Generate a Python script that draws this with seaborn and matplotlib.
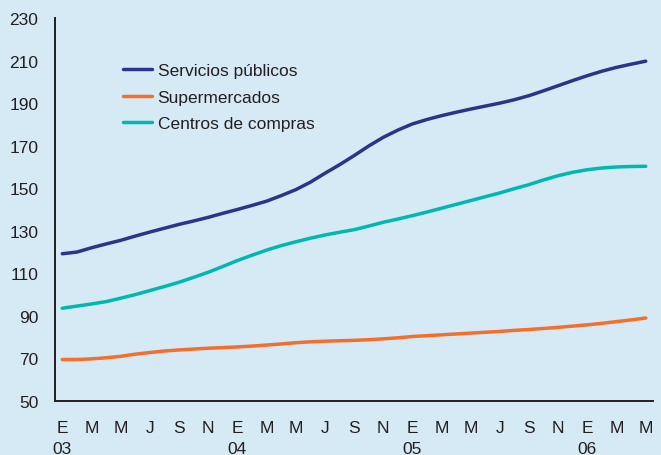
import numpy as np
import pandas as pd
import matplotlib
matplotlib.use("Agg")
import matplotlib.pyplot as plt
import seaborn as sns

# Monthly index values, January 2003 to May 2006
months = ["E", "F", "M", "A", "M", "J", "J", "A", "S", "O", "N", "D"] * 3 + ["E", "F", "M", "A", "M"]
years = ["03"] * 12 + ["04"] * 12 + ["05"] * 12 + ["06"] * 5

servicios = [119.2, 120.0, 122.0, 123.8, 125.5, 127.5, 129.4, 131.2, 133.0, 134.6,
             136.3, 138.2, 140.0, 141.9, 143.9, 146.5, 149.3, 152.8, 157.0, 161.0,
             165.3, 169.8, 173.9, 177.3, 180.2, 182.3, 184.1, 185.7, 187.2, 188.6,
             190.0, 191.6, 193.5, 195.8, 198.2, 200.6, 202.9, 205.0, 206.8, 208.3,
             209.7]
supermercados = [69.5, 69.5, 69.8, 70.3, 71.0, 72.0, 72.8, 73.5, 74.0, 74.4,
                 74.8, 75.1, 75.4, 75.8, 76.3, 76.8, 77.4, 77.8, 78.1, 78.3,
                 78.5, 78.8, 79.2, 79.7, 80.3, 80.7, 81.1, 81.5, 81.9, 82.3,
                 82.7, 83.2, 83.6, 84.1, 84.6, 85.2, 85.8, 86.5, 87.3, 88.1,
                 89.0]
centros = [93.6, 94.6, 95.6, 96.7, 98.3, 100.0, 101.9, 103.8, 105.8, 108.1,
           110.5, 113.2, 116.0, 118.5, 120.9, 123.0, 124.8, 126.5, 128.0, 129.3,
           130.5, 132.2, 134.0, 135.5, 137.1, 138.8, 140.6, 142.4, 144.2, 146.0,
           147.8, 149.8, 151.7, 153.9, 155.9, 157.5, 158.7, 159.5, 160.0, 160.2,
           160.3]

series_names = ["Servicios públicos", "Supermercados", "Centros de compras"]
series_values = [servicios, supermercados, centros]
palette = ["#2B348A", "#F36F2B", "#00B7B1"]
y_ticks = list(range(50, 231, 20))

n = len(months)
x = np.arange(n)
df = pd.concat(
    [pd.DataFrame({"mes": x, "valor": vals, "serie": name})
     for name, vals in zip(series_names, series_values)],
    ignore_index=True,
)

sns.set_theme(style="white")
plt.rcParams["font.family"] = ["Liberation Sans", "DejaVu Sans"]

bg = "#D6EAF5"
ink = "#231F20"
fig = plt.figure(figsize=(6.61, 4.56), dpi=100, facecolor=bg)
ax = fig.add_axes([55 / 661, 1 - 402 / 456, 598 / 661, 383 / 456])
ax.set_facecolor(bg)

sns.lineplot(data=df, x="mes", y="valor", hue="serie", hue_order=series_names,
             palette=palette, linewidth=2.5, ax=ax, legend=True)

ax.set_xlim(-0.5, n - 0.5)
ax.set_ylim(50, 230)
ax.set_yticks(y_ticks)
ax.set_yticklabels([str(v) for v in y_ticks], fontsize=12.5, color=ink)

# Labels every two months at month centres; tick marks at month boundaries
label_pos = x[::2]
labels = [f"{months[i]}\n{years[i]}" if months[i] == "E" else f"{months[i]}\n"
          for i in label_pos]
ax.set_xticks(label_pos)
ax.set_xticklabels(labels, fontsize=12.5, color=ink, linespacing=1.45)
ax.set_xticks(np.arange(-0.5, n, 1.0), minor=True)
ax.tick_params(axis="x", which="major", length=0, pad=14)
ax.tick_params(axis="x", which="minor", length=5, width=1.2, color=ink, direction="out")
ax.tick_params(axis="y", which="major", length=6, width=1.2, color=ink,
               direction="out", pad=6)

for side in ["top", "right"]:
    ax.spines[side].set_visible(False)
for side in ["left", "bottom"]:
    ax.spines[side].set_color(ink)
    ax.spines[side].set_linewidth(1.4)

ax.set_xlabel("")
ax.set_ylabel("")

leg = ax.legend(loc="upper left", bbox_to_anchor=(0.102, 0.9), frameon=False,
                fontsize=12.5, handlelength=1.7, handletextpad=0.3,
                labelspacing=0.65, borderaxespad=0)
for h in leg.get_lines():
    h.set_linewidth(2.5)
for t in leg.get_texts():
    t.set_color(ink)

fig.savefig("out.png", dpi=100, facecolor=bg)
